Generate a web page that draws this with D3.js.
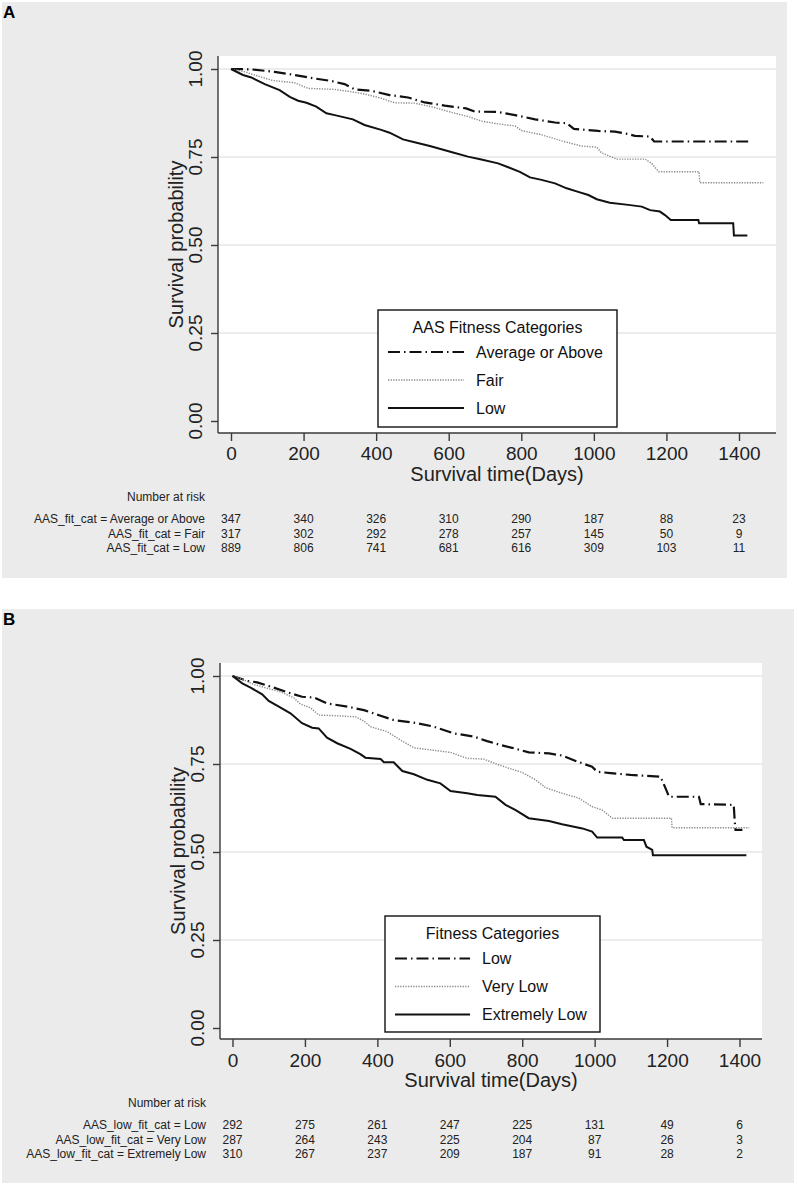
<!DOCTYPE html>
<html>
<head>
<meta charset="utf-8">
<script src="https://cdn.jsdelivr.net/npm/d3@7/dist/d3.min.js"></script>
<style>
  html, body { margin: 0; padding: 0; background: #ffffff; }
  svg { display: block; font-family: "Liberation Sans", Arial, Helvetica, sans-serif; }
</style>
</head>
<body>
<svg id="chart" width="797" height="1186"></svg>
<script>
// ---------------- DATA ----------------
const xTicks = [0, 200, 400, 600, 800, 1000, 1200, 1400];
const yTicks = [0, 0.25, 0.5, 0.75, 1.0];
const gridTicks = [0.25, 0.5, 0.75, 1.0];

// Panel A : AAS Fitness Categories
const seriesNamesA = ["Average or Above", "Fair", "Low"];
const kmA_avg = [[0,1],[56,.999],[120,.992],[175,.983],[231,.973],[276,.966],[313,.957],[341,.942],[387,.938],[437,.926],[488,.919],[534,.905],[589,.896],[648,.888],[672,.879],[736,.878],[783,.869],[838,.857],[893,.848],[925,.846],[945,.830],[1012,.824],[1058,.822],[1095,.815],[1113,.810],[1155,.808],[1166,.794],[1430,.794]];
const kmA_fair = [[0,1],[38,.992],[74,.980],[116,.967],[175,.961],[212,.945],[286,.942],[327,.936],[368,.929],[414,.917],[451,.904],[506,.903],[552,.893],[607,.877],[653,.865],[690,.852],[736,.844],[783,.838],[801,.825],[856,.813],[911,.796],[966,.781],[1008,.778],[1021,.762],[1063,.744],[1141,.744],[1159,.732],[1179,.708],[1290,.708],[1292,.677],[1467,.677]];
const kmA_low = [[0,1],[33,.983],[56,.976],[93,.957],[134,.940],[162,.921],[185,.910],[208,.904],[235,.893],[263,.874],[286,.869],[336,.857],[368,.841],[414,.827],[437,.819],[474,.800],[506,.792],[548,.781],[607,.764],[653,.751],[690,.743],[736,.732],[764,.721],[796,.708],[824,.692],[856,.685],[893,.675],[925,.661],[957,.651],[985,.642],[1008,.630],[1044,.620],[1095,.614],[1132,.609],[1155,.599],[1182,.595],[1196,.585],[1212,.571],[1288,.571],[1290,.562],[1384,.562],[1386,.527],[1423,.527]];
const riskLabelsA = ["AAS_fit_cat = Average or Above", "AAS_fit_cat = Fair", "AAS_fit_cat = Low"];
const riskA_avg = [347, 340, 326, 310, 290, 187, 88, 23];
const riskA_fair = [317, 302, 292, 278, 257, 145, 50, 9];
const riskA_low = [889, 806, 741, 681, 616, 309, 103, 11];

// Panel B : Fitness Categories (low fitness subgroups)
const seriesNamesB = ["Low", "Very Low", "Extremely Low"];
const kmB_low = [[0,1],[41,.986],[68,.982],[114,.967],[160,.951],[192,.941],[225,.939],[261,.922],[317,.913],[363,.903],[409,.887],[445,.875],[510,.866],[556,.856],[611,.837],[666,.828],[703,.815],[740,.804],[772,.796],[818,.783],[874,.780],[910,.774],[952,.757],[993,.742],[1007,.728],[1044,.724],[1099,.719],[1182,.714],[1200,.671],[1205,.657],[1288,.657],[1293,.636],[1384,.634],[1387,.586],[1389,.563],[1408,.563]];
const kmB_vlow = [[0,1],[31,.989],[59,.976],[96,.965],[133,.955],[169,.938],[188,.920],[215,.910],[238,.889],[289,.887],[340,.884],[363,.872],[381,.856],[427,.842],[464,.818],[501,.796],[547,.790],[602,.783],[648,.766],[694,.764],[731,.749],[763,.738],[800,.726],[837,.705],[864,.683],[910,.667],[956,.653],[993,.629],[1021,.619],[1049,.596],[1212,.596],[1214,.569],[1427,.569]];
const kmB_elow = [[0,1],[27,.979],[50,.967],[82,.948],[100,.929],[128,.913],[160,.894],[192,.866],[220,.853],[238,.851],[261,.825],[289,.809],[326,.793],[353,.778],[367,.768],[409,.764],[418,.755],[445,.755],[469,.730],[501,.721],[538,.705],[574,.695],[602,.673],[648,.667],[676,.662],[726,.657],[754,.634],[782,.619],[818,.596],[874,.588],[910,.579],[966,.567],[993,.558],[1007,.541],[1076,.541],[1081,.534],[1136,.534],[1143,.515],[1159,.506],[1161,.491],[1419,.491]];
const riskLabelsB = ["AAS_low_fit_cat = Low", "AAS_low_fit_cat = Very Low", "AAS_low_fit_cat = Extremely Low"];
const riskB_low = [292, 275, 261, 247, 225, 131, 49, 6];
const riskB_vlow = [287, 264, 243, 225, 204, 87, 26, 3];
const riskB_elow = [310, 267, 237, 209, 187, 91, 28, 2];

// ---------------- STYLE ----------------
const BG = "#ebebeb";
const GRID = "#e6e6e6";
const AXIS = "#3a3a3a";
const styles = [
  { stroke: "#111", width: 2.2, dash: "12,4,1.5,4" }, // dash-dot
  { stroke: "#8a8a8a", width: 1.4, dash: "1.3,1.3" }, // dotted
  { stroke: "#111", width: 2.0, dash: null }          // solid
];

const svg = d3.select("#chart");

function drawPanel(cfg) {
  const g = svg.append("g");
  g.append("rect").attr("x", cfg.bg[0]).attr("y", cfg.bg[1])
    .attr("width", cfg.bg[2] - cfg.bg[0]).attr("height", cfg.bg[3] - cfg.bg[1])
    .attr("fill", BG);
  g.append("text").attr("x", cfg.letterPos[0]).attr("y", cfg.letterPos[1])
    .attr("font-size", 17).attr("font-weight", "bold").attr("fill", "#000").text(cfg.letter);

  const x = d3.scaleLinear().domain([0, 1400]).range(cfg.xr);
  const y = d3.scaleLinear().domain([0, 1]).range(cfg.yr);
  const P = cfg.plot; // [left, top, right, bottom]

  g.append("rect").attr("x", P[0]).attr("y", P[1]).attr("width", P[2] - P[0]).attr("height", P[3] - P[1]).attr("fill", "#fff");

  g.selectAll(".grid").data(gridTicks).join("line")
    .attr("x1", P[0]).attr("x2", P[2]).attr("y1", d => y(d)).attr("y2", d => y(d))
    .attr("stroke", GRID).attr("stroke-width", 1.6);

  const line = d3.line().x(d => x(d[0])).y(d => y(d[1])).curve(d3.curveLinear);
  cfg.series.forEach((s, i) => {
    const st = styles[i];
    g.append("path").datum(s).attr("d", line).attr("fill", "none")
      .attr("stroke", st.stroke).attr("stroke-width", st.width)
      .attr("stroke-dasharray", st.dash).attr("stroke-linejoin", "miter");
  });

  // Y axis
  const yAxis = d3.axisLeft(y).tickValues(yTicks).tickSize(7).tickFormat("");
  const ya = g.append("g").attr("transform", `translate(${P[0]},0)`).call(yAxis);
  ya.select(".domain").attr("d", `M0,${P[1]}V${P[3]}`);
  ya.selectAll("line, path").attr("stroke", AXIS).attr("stroke-width", 1.4);
  g.selectAll(".ytl").data(yTicks).join("text")
    .attr("transform", d => `translate(${P[0] - 16},${y(d)}) rotate(-90)`)
    .attr("text-anchor", "middle").attr("font-size", 19).attr("fill", "#222")
    .text(d => d3.format(".2f")(d));
  g.append("text").attr("transform", `translate(${P[0] - 35},${(P[1] + P[3]) / 2}) rotate(-90)`)
    .attr("text-anchor", "middle").attr("font-size", 20).attr("fill", "#222").text("Survival probability");

  // X axis
  const xAxis = d3.axisBottom(x).tickValues(xTicks).tickSize(8).tickPadding(4).tickFormat(d3.format("d"));
  const xa = g.append("g").attr("transform", `translate(0,${P[3]})`).call(xAxis);
  xa.select(".domain").attr("d", `M${P[0]},0H${P[2]}`);
  xa.selectAll("line, path").attr("stroke", AXIS).attr("stroke-width", 1.4);
  xa.selectAll("text").attr("font-size", 19).attr("fill", "#222").attr("font-family", null)
    .attr("dy", null).attr("y", cfg.xTickBase - P[3]);
  g.append("text").attr("x", (P[0] + P[2]) / 2).attr("y", cfg.xTitleBase)
    .attr("text-anchor", "middle").attr("font-size", 20).attr("fill", "#222").text("Survival time(Days)");

  // Legend
  const L = cfg.legend;
  g.append("rect").attr("x", L.box[0]).attr("y", L.box[1]).attr("width", L.box[2] - L.box[0]).attr("height", L.box[3] - L.box[1])
    .attr("fill", "#fff").attr("stroke", "#111").attr("stroke-width", 1.4);
  g.append("text").attr("x", (L.box[0] + L.box[2]) / 2).attr("y", L.titleBase)
    .attr("text-anchor", "middle").attr("font-size", 16).attr("fill", "#111").text(L.title);
  cfg.names.forEach((n, i) => {
    const st = styles[i];
    const ly = L.rows[i];
    g.append("line").attr("x1", L.lineX[0]).attr("x2", L.lineX[1]).attr("y1", ly).attr("y2", ly)
      .attr("stroke", st.stroke).attr("stroke-width", st.width).attr("stroke-dasharray", st.dash);
    g.append("text").attr("x", L.textX).attr("y", ly + 5.6).attr("font-size", 16).attr("fill", "#111").text(n);
  });

  // Risk table
  const R = cfg.risk;
  g.append("text").attr("x", R.labelX).attr("y", R.headBase).attr("text-anchor", "end")
    .attr("font-size", 12).attr("fill", "#222").text("Number at risk");
  R.rows.forEach((row, i) => {
    const by = R.rowBase[i];
    g.append("text").attr("x", R.labelX).attr("y", by).attr("text-anchor", "end")
      .attr("font-size", 12).attr("fill", "#222").text(R.labels[i]);
    g.selectAll(null).data(row).join("text")
      .attr("x", (d, j) => x(xTicks[j])).attr("y", by).attr("text-anchor", "middle")
      .attr("font-size", 12).attr("fill", "#222").text(d => d);
  });
}

drawPanel({
  letter: "A", letterPos: [3, 18],
  bg: [2, 2, 787, 578],
  plot: [218, 56, 776, 433],
  xr: [231, 739], yr: [421, 69],
  xTickBase: 460, xTitleBase: 481,
  series: [kmA_avg, kmA_fair, kmA_low],
  names: seriesNamesA,
  legend: { box: [378, 310, 617, 427], title: "AAS Fitness Categories", titleBase: 332.5,
            rows: [352, 380, 408], lineX: [388, 464], textX: 476 },
  risk: { labelX: 205, headBase: 501, rowBase: [523, 537.5, 552], labels: riskLabelsA,
          rows: [riskA_avg, riskA_fair, riskA_low] }
});

drawPanel({
  letter: "B", letterPos: [3, 625],
  bg: [2, 609, 794, 1183],
  plot: [220, 663, 762, 1039],
  xr: [232.5, 739.5], yr: [1028, 676],
  xTickBase: 1067, xTitleBase: 1087,
  series: [kmB_low, kmB_vlow, kmB_elow],
  names: seriesNamesB,
  legend: { box: [385, 916, 600, 1032], title: "Fitness Categories", titleBase: 939,
            rows: [958.5, 986.5, 1014.5], lineX: [395, 470], textX: 482 },
  risk: { labelX: 206, headBase: 1107, rowBase: [1129, 1143.5, 1158], labels: riskLabelsB,
          rows: [riskB_low, riskB_vlow, riskB_elow] }
});
</script>
</body>
</html>
